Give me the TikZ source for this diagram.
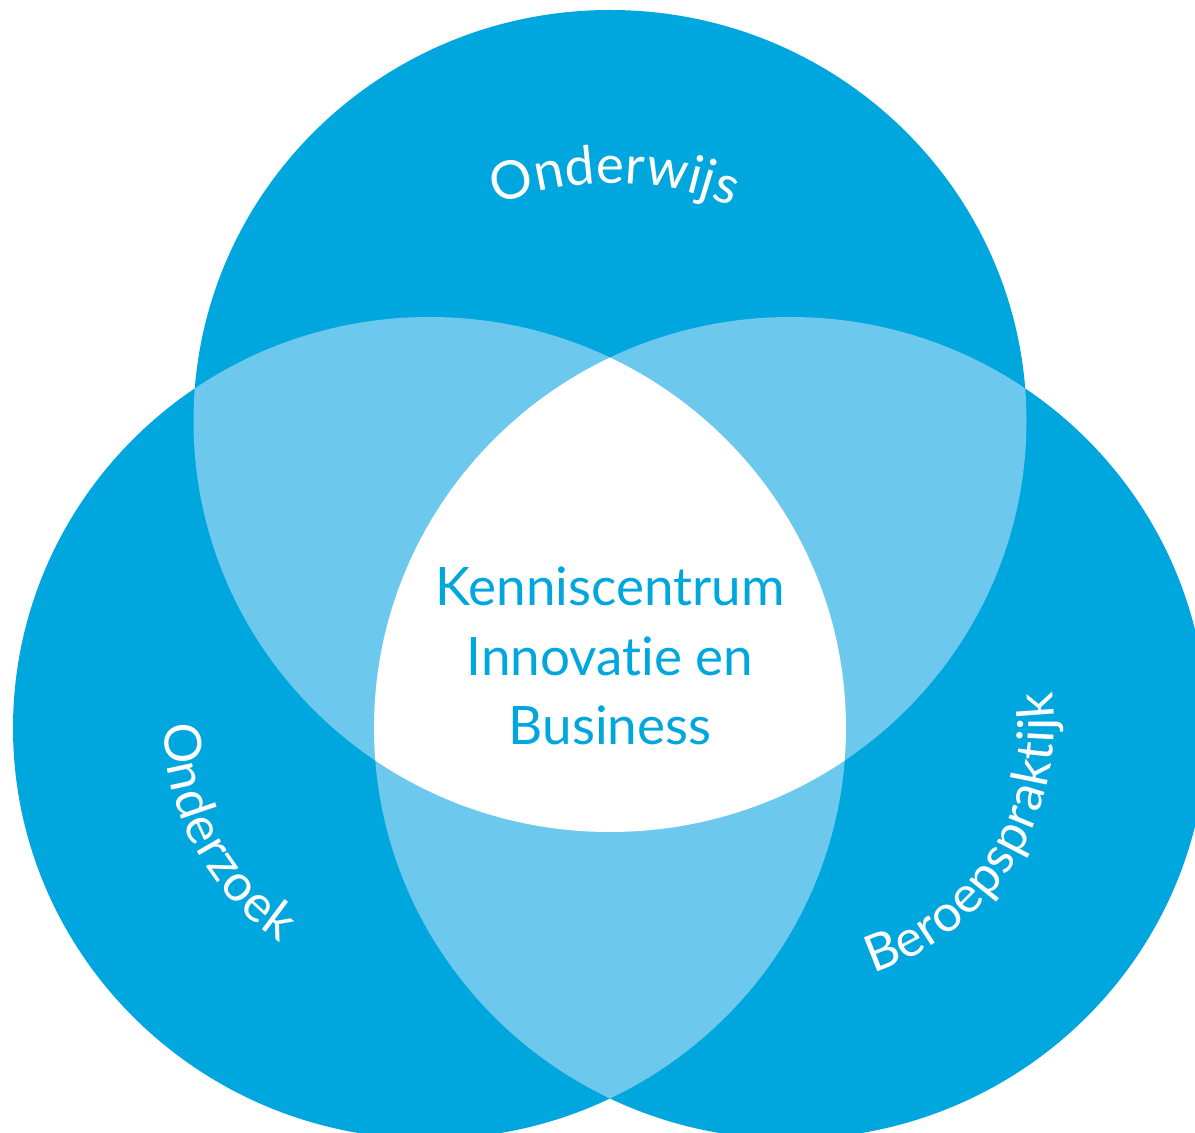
\documentclass[tikz,border=0pt]{standalone}
\usepackage{fontspec}
\setmainfont{Lato}[Ligatures={NoCommon}]
\usetikzlibrary{decorations.text,calc}
\definecolor{vdark}{RGB}{0,166,222}
\definecolor{vlight}{RGB}{108,201,237}
\begin{document}
\begin{tikzpicture}[x=1pt,y=1pt,
  ctext/.style={font=\fontsize{53}{69}\selectfont, text=vdark, inner sep=0pt, anchor=base},
  circ/.style={x radius=416.5, y radius=411}]
\useasboundingbox (0,0) rectangle (1195,1133);
\clip (0,0) rectangle (1195,1133);
\coordinate (ct) at (610,712);
\coordinate (cl) at (429.5,405);
\coordinate (cr) at (790.5,405);
% base circles
\fill[vdark] (ct) ellipse[circ];
\fill[vdark] (cl) ellipse[circ];
\fill[vdark] (cr) ellipse[circ];
% pairwise overlaps
\begin{scope}
  \clip (ct) ellipse[circ];
  \fill[vlight] (cl) ellipse[circ];
  \fill[vlight] (cr) ellipse[circ];
\end{scope}
\begin{scope}
  \clip (cl) ellipse[circ];
  \fill[vlight] (cr) ellipse[circ];
\end{scope}
% triple overlap
\begin{scope}
  \clip (ct) ellipse[circ];
  \clip (cl) ellipse[circ];
  \fill[white] (cr) ellipse[circ];
\end{scope}
% centre text
\node[ctext] (k1) at (610,527) {Kenniscentrum};
\node[ctext] (k2) at (610,457) {Innovatie en};
\node[ctext] (k3) at (610,388) {Business};
% curved labels
\path[decorate, decoration={text along path, text align=fit to path, text color=white,
  text={|\fontsize{53}{53}\selectfont|Onderwijs}}]
  ($(613,633)+(111.5:317)$) arc[start angle=111.5, end angle=68, radius=317];
\path[decorate, decoration={text along path, text align=fit to path, text color=white,
  text={|\fontsize{51}{51}\selectfont|Onderzoek}}]
  ($(428,409)+(180:264)$) arc[start angle=180, end angle=236, radius=264];
\path[decorate, decoration={text along path, text align=fit to path, text color=white,
  text={|\fontsize{51}{51}\selectfont|Beroepspraktijk}}]
  ($(792,409)+(-72:262)$) arc[start angle=-72, end angle=7, radius=262];
\end{tikzpicture}
\end{document}
